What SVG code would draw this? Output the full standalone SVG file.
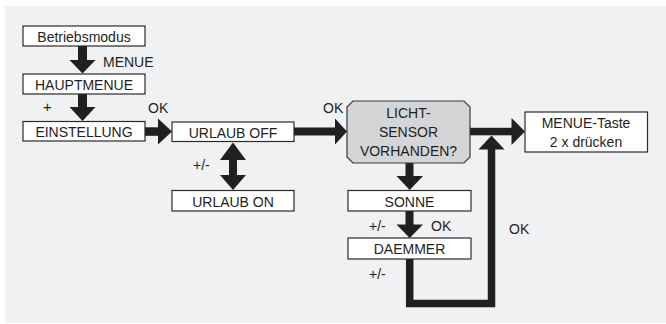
<svg xmlns="http://www.w3.org/2000/svg" width="666" height="324" viewBox="0 0 666 324">
<style>
text{font-family:"Liberation Sans",Arial,sans-serif;font-size:14px;fill:#231f20}
.c{text-anchor:middle}
.box{fill:#ffffff;stroke:#2b2b2b;stroke-width:1.2}
.ar{fill:#231f20}
.ln{fill:none;stroke:#231f20;stroke-width:7.5;stroke-linejoin:miter}
</style>
<rect x="5" y="6" width="661" height="317" fill="#f0f1f3"/>
<g id="connectors">
<rect class="ar" x="78" y="46" width="9" height="15"/>
<polygon class="ar" points="69.5,60 95.5,60 82.5,73.5"/>
<rect class="ar" x="78" y="94" width="9" height="14"/>
<polygon class="ar" points="69.5,107 95.5,107 82.5,121"/>
<rect class="ar" x="145" y="127.3" width="14" height="8.5"/>
<polygon class="ar" points="158,118.5 158,144.5 172,131.5"/>
<rect class="ar" x="294" y="127.5" width="42" height="8"/>
<polygon class="ar" points="335,118.5 335,144.5 347,131.5"/>
<rect class="ar" x="229" y="159" width="8" height="17"/>
<polygon class="ar" points="220,160 246,160 233,142.5"/>
<polygon class="ar" points="220,175 246,175 233,190"/>
<rect class="ar" x="470" y="127.8" width="42" height="7.5"/>
<polygon class="ar" points="511.5,118 511.5,145 525,131.5"/>
<rect class="ar" x="405.5" y="163" width="8" height="14"/>
<polygon class="ar" points="396.5,176 423,176 409.7,190"/>
<rect class="ar" x="405.5" y="211" width="8" height="14.5"/>
<polygon class="ar" points="396.5,224.5 423,224.5 409.7,238"/>
<polyline class="ln" points="409.7,259 409.7,303.4 491.5,303.4 491.5,149"/>
<polygon class="ar" points="478.5,149.5 504.5,149.5 491.5,135.5"/>
<text x="103" y="67">MENUE</text>
<text x="43" y="111.5" style="font-size:15px">+</text>
<text x="148" y="113">OK</text>
<text x="323" y="113">OK</text>
<text x="193" y="170">+/-</text>
<text x="369" y="231">+/-</text>
<text x="431" y="231">OK</text>
<text x="369" y="279">+/-</text>
<text x="509" y="234">OK</text>
</g>
<g id="betriebsmodus"><rect class="box" x="23" y="26" width="122" height="20"/><text class="c" x="84" y="41.5">Betriebsmodus</text></g>
<g id="hauptmenue"><rect class="box" x="23" y="74" width="122" height="20"/><text class="c" x="84" y="89.5">HAUPTMENUE</text></g>
<g id="einstellung"><rect class="box" x="23" y="121.5" width="122" height="19.5"/><text class="c" x="84" y="137">EINSTELLUNG</text></g>
<g id="urlaub-off"><rect class="box" x="172" y="122" width="122" height="19.5"/><text class="c" x="233" y="137.5">URLAUB OFF</text></g>
<g id="urlaub-on"><rect class="box" x="172" y="190.5" width="122" height="20.5"/><text class="c" x="233" y="206.5">URLAUB ON</text></g>
<g id="lichtsensor"><polygon points="353,101 464,101 470,107 470,157 464,163 353,163 347,157 347,107" fill="#d4d5d7" stroke="#3a3a3a" stroke-width="1.2"/><text class="c" x="408.5" y="118">LICHT-</text><text class="c" x="408.5" y="137">SENSOR</text><text class="c" x="408.5" y="156">VORHANDEN?</text></g>
<g id="menue-taste"><rect class="box" x="525" y="112" width="122.5" height="40"/><text class="c" x="586" y="128">MENUE-Taste</text><text class="c" x="586" y="147">2 x drücken</text></g>
<g id="sonne"><rect class="box" x="348" y="190.5" width="123" height="20.5"/><text class="c" x="409.5" y="206.5">SONNE</text></g>
<g id="daemmer"><rect class="box" x="348" y="238" width="123" height="21"/><text class="c" x="409.5" y="254">DAEMMER</text></g>
</svg>
